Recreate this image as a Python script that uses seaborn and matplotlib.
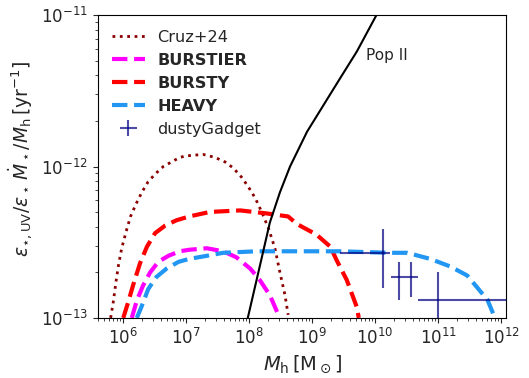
import matplotlib
matplotlib.use("Agg")
import matplotlib.pyplot as plt
import numpy as np
import pandas as pd
import seaborn as sns

# values, stored as log10(M_h) and log10(rate)
cruz_logm = [5.805, 5.85, 5.89, 5.93, 5.98, 6.05, 6.12, 6.21, 6.30, 6.40, 6.51, 6.64, 6.77, 6.90, 7.0,
             7.27, 7.46, 7.62, 7.75, 7.88, 7.99, 8.10, 8.20, 8.31, 8.41, 8.49, 8.57, 8.62]
cruz_logy = [-13.0, -12.885, -12.76, -12.65, -12.54, -12.43, -12.33, -12.245, -12.17, -12.10, -12.05, -12.00, -11.97, -11.94, -11.93,
             -11.92, -11.94, -11.97, -12.01, -12.07, -12.135, -12.21, -12.30, -12.41, -12.54, -12.70, -12.85, -12.98]

burstier_logm = [6.14, 6.22, 6.32, 6.43, 6.56, 6.72, 6.90, 7.05, 7.33, 7.59, 7.80, 8.02, 8.17, 8.33, 8.465, 8.48]
burstier_logy = [-13.0, -12.885, -12.785, -12.70, -12.63, -12.59, -12.56, -12.55, -12.54, -12.56, -12.60, -12.675, -12.75, -12.85, -12.98, -13.0]

bursty_logm = [6.005, 6.08, 6.16, 6.27, 6.38, 6.51, 6.67, 6.85, 7.05, 7.38, 7.86, 8.28, 8.62, 8.76, 9.07, 9.29, 9.39, 9.55, 9.71, 9.74]
bursty_logy = [-13.0, -12.90, -12.785, -12.64, -12.53, -12.44, -12.39, -12.355, -12.33, -12.30, -12.29, -12.31, -12.33, -12.38, -12.45, -12.53, -12.62, -12.75, -12.93, -13.0]

heavy_logm = [6.22, 6.30, 6.40, 6.53, 6.69, 6.88, 7.05, 7.33, 7.59, 8.12, 8.65, 9.44, 10.24, 10.51, 10.87, 11.19, 11.46, 11.62, 11.78, 11.87, 11.89]
heavy_logy = [-13.0, -12.92, -12.81, -12.73, -12.675, -12.63, -12.61, -12.59, -12.57, -12.56, -12.56, -12.56, -12.57, -12.57, -12.61, -12.66, -12.72, -12.80, -12.88, -12.97, -13.0]

pop2_logm = [7.98, 8.175, 8.33, 8.49, 8.65, 8.92, 9.18, 9.44, 9.71, 10.02]
pop2_logy = [-13.0, -12.65, -12.37, -12.17, -12.00, -11.77, -11.595, -11.42, -11.24, -11.0]

# dustyGadget points with asymmetric bars
dg_mh = [1.32e10, 2.35e10, 3.7e10, 1.0e11]
dg_mh_lo = [2.75e9, 1.78e10, 2.9e10, 4.8e10]
dg_mh_hi = [1.74e10, 2.9e10, 4.8e10, 2.0e12]
dg_rate = [2.7e-13, 1.86e-13, 1.86e-13, 1.32e-13]
dg_rate_lo = [1.57e-13, 1.32e-13, 1.38e-13, 5.0e-14]
dg_rate_hi = [3.85e-13, 2.34e-13, 2.34e-13, 2.0e-13]


def to_frame(logm, logy):
    return pd.DataFrame({"mh": 10 ** np.array(logm), "rate": 10 ** np.array(logy)})


sns.set_style("ticks")
plt.rcParams["font.family"] = ["DejaVu Sans"]
plt.rcParams["mathtext.fontset"] = "dejavusans"

fig, ax = plt.subplots(figsize=(5.29, 3.78), dpi=100)
fig.subplots_adjust(left=0.185, right=0.957, bottom=0.159, top=0.960)

sns.lineplot(data=to_frame(cruz_logm, cruz_logy), x="mh", y="rate", ax=ax, color="darkred",
             linestyle=":", linewidth=2, label="Cruz+24")
sns.lineplot(data=to_frame(burstier_logm, burstier_logy), x="mh", y="rate", ax=ax, color="magenta",
             linestyle="--", linewidth=3, label="BURSTIER")
sns.lineplot(data=to_frame(bursty_logm, bursty_logy), x="mh", y="rate", ax=ax, color="red",
             linestyle="--", linewidth=3, label="BURSTY")
sns.lineplot(data=to_frame(heavy_logm, heavy_logy), x="mh", y="rate", ax=ax, color="#2196f3",
             linestyle="--", linewidth=3, label="HEAVY")
sns.lineplot(data=to_frame(pop2_logm, pop2_logy), x="mh", y="rate", ax=ax, color="black",
             linewidth=1.5, legend=False)

dg_mh_arr = np.array(dg_mh)
dg_rate_arr = np.array(dg_rate)
ax.errorbar(dg_mh_arr, dg_rate_arr,
            xerr=[dg_mh_arr - np.array(dg_mh_lo), np.array(dg_mh_hi) - dg_mh_arr],
            yerr=[dg_rate_arr - np.array(dg_rate_lo), np.array(dg_rate_hi) - dg_rate_arr],
            fmt="none", ecolor="navy", alpha=0.7, elinewidth=1.5, label="dustyGadget")

ax.text(7.2e9, 5.45e-12, "Pop II", fontsize=11, ha="left", va="center")

ax.set_xscale("log")
ax.set_yscale("log")
ax.set_xlim(4e5, 1.2e12)
ax.set_ylim(1e-13, 1e-11)
ax.set_xlabel(r"$M_{\rm h}\,[\rm M_\odot]$", fontsize=14)
ax.set_ylabel(r"$\varepsilon_{\star,\rm UV}/\varepsilon_\star\,\dot{M}_\star/M_{\rm h}\,[\rm yr^{-1}]$", fontsize=13.5)
ax.yaxis.set_label_coords(-0.155, 0.526)
ax.tick_params(labelsize=12)
for spine in ax.spines.values():
    spine.set_color("black")

leg = ax.legend(loc="upper left", frameon=False, fontsize=11.6, labelspacing=0.5)
for txt in leg.get_texts():
    if txt.get_text() in ("BURSTIER", "BURSTY", "HEAVY"):
        txt.set_fontweight("bold")

fig.savefig("out.png", dpi=100)
